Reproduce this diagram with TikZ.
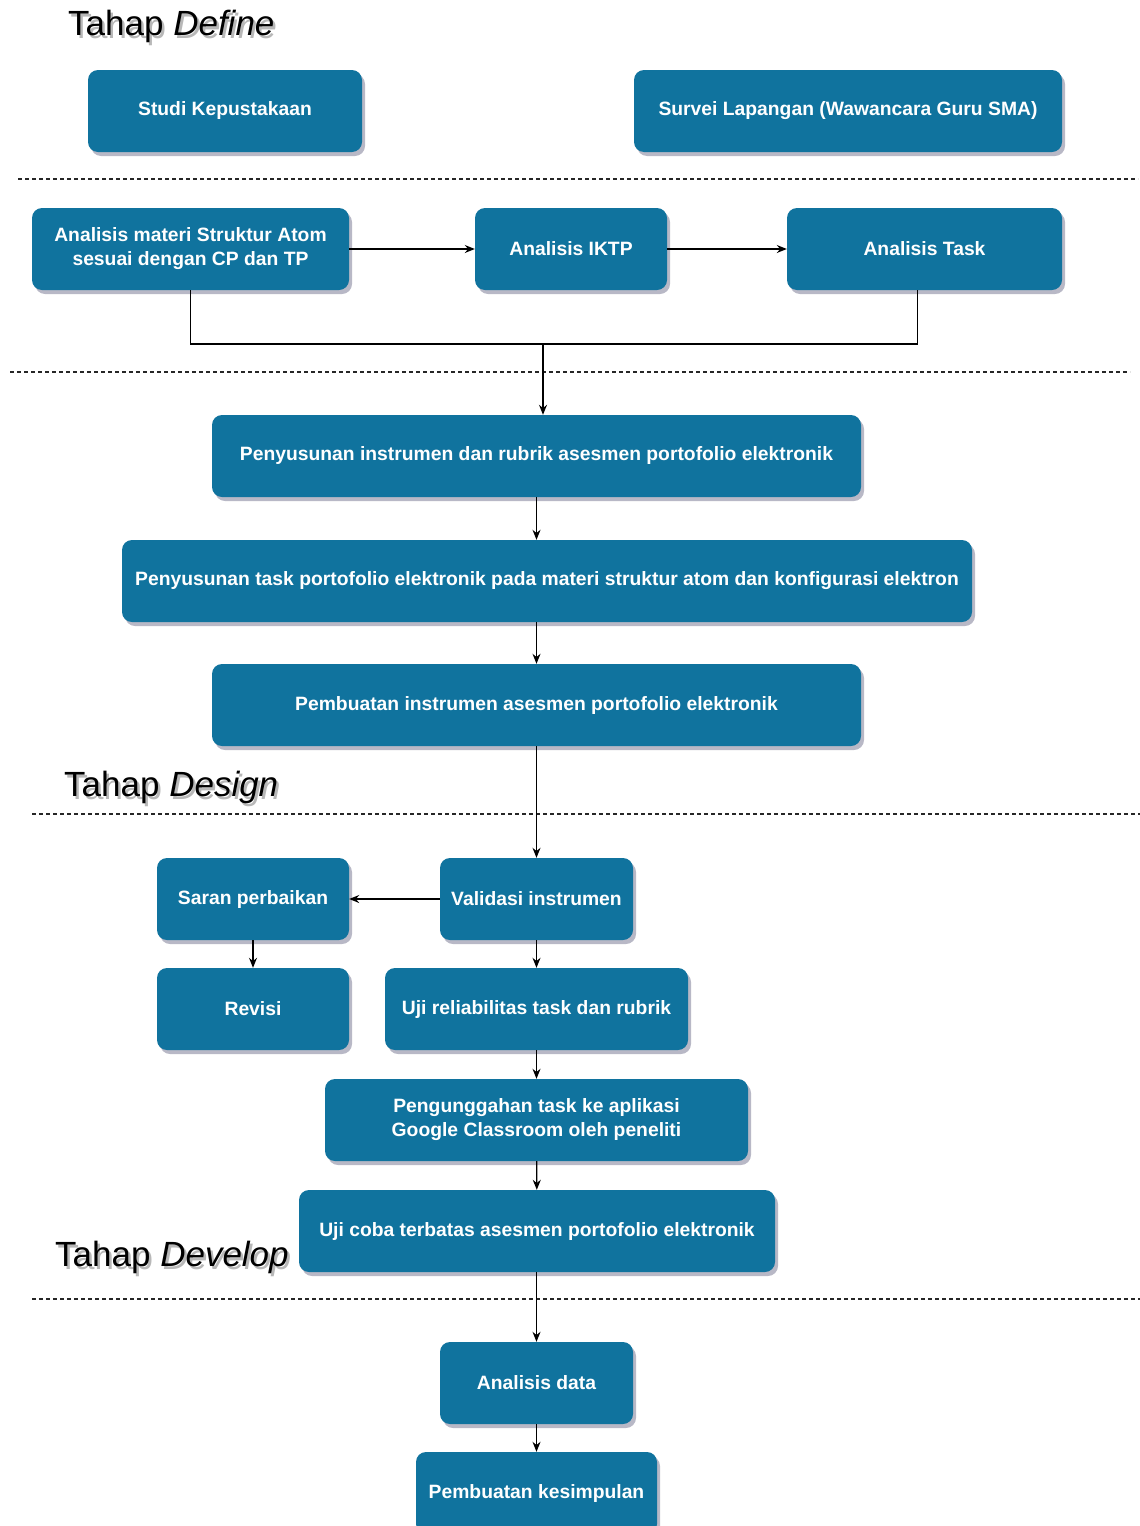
\documentclass[tikz,border=0pt]{standalone}
\usepackage{fontspec}
\setmainfont{Liberation Sans}
\usetikzlibrary{arrows.meta,shadows}
\definecolor{boxblue}{HTML}{10739E}
\tikzset{
  box/.style={rectangle, rounded corners=10pt, fill=boxblue, draw=none, text=white,
    font=\bfseries\fontsize{19.3}{24}\selectfont, align=center, inner sep=0pt,
    minimum height=82pt,
    drop shadow={shadow xshift=3pt, shadow yshift=-4pt, opacity=0.28, fill=black!80!blue}},
  arr/.style={-{Stealth[length=10pt,width=8pt]}, line width=1.2pt, black},
  conn/.style={line width=1.2pt, black},
  sep/.style={line width=1.1pt, dash pattern=on 4pt off 3pt, black!85},
  title/.style={font=\fontsize{35}{40}\selectfont, anchor=west, inner sep=0pt}
}
\newcommand{\tahap}[4]{%
  \node[title] (#4) at (#1,#2) {\rlap{\hspace{2.5pt}\raisebox{-3.5pt}{\color{black!28}Tahap \textit{#3}}}Tahap \textit{#3}};}
\begin{document}
\begin{tikzpicture}[x=1pt,y=-1pt]
\useasboundingbox (0,0) rectangle (1140,1526);
\clip (0,0) rectangle (1140,1526);
\fill[white] (0,0) rectangle (1140,1526);

% titles
\tahap{68}{28}{Define}{t1}
\tahap{64}{789}{Design}{t2}
\tahap{55}{1259}{Develop}{t3}

% separators
\draw[sep] (18,179) -- (1138,179);
\draw[sep] (10,372) -- (1130,372);
\draw[sep] (32,814) -- (1140,814);
\draw[sep] (32,1299) -- (1140,1299);

% nodes
\node[box, minimum width=274pt] (sk) at (225,111) {Studi Kepustakaan};
\node[box, minimum width=428pt] (sl) at (848,111) {Survei Lapangan (Wawancara Guru SMA)};
\node[box, minimum width=317pt] (am) at (190.5,249) {Analisis materi Struktur Atom\\sesuai dengan CP dan TP};
\node[box, minimum width=192pt] (ai) at (571,249) {Analisis IKTP};
\node[box, minimum width=275pt] (at) at (924.5,249) {Analisis Task};
\node[box, minimum width=649pt] (pi) at (536.5,456) {Penyusunan instrumen dan rubrik asesmen portofolio elektronik};
\node[box, minimum width=850pt] (pt) at (547,581) {Penyusunan task portofolio elektronik pada materi struktur atom dan konfigurasi elektron};
\node[box, minimum width=649pt] (pb) at (536.5,705) {Pembuatan instrumen asesmen portofolio elektronik};
\node[box, minimum width=193pt] (vi) at (536.5,899) {Validasi instrumen};
\node[box, minimum width=192pt] (sp) at (253,899) {Saran perbaikan};
\node[box, minimum width=192pt] (rv) at (253,1009) {Revisi};
\node[box, minimum width=303pt] (ur) at (536.5,1009) {Uji reliabilitas task dan rubrik};
\node[box, minimum width=423pt] (pg) at (536.5,1120) {Pengunggahan task ke aplikasi\\Google Classroom oleh peneliti};
\node[box, minimum width=476pt] (uc) at (537,1231) {Uji coba terbatas asesmen portofolio elektronik};
\node[box, minimum width=193pt] (ad) at (536.5,1383) {Analisis data};
\node[box, minimum width=241pt] (ks) at (536.5,1493) {Pembuatan kesimpulan};

% connectors
\coordinate (j) at (543,344);
\draw[arr] (am) -- (ai);
\draw[arr] (ai) -- (at);
\draw[conn] (am.south) |- (j);
\draw[conn] ([xshift=-7pt]at.south) |- (j);
\draw[arr] (j) -- (pi.north -| j);
\draw[arr] (pi.south) -- (pt.north -| pi.south);
\draw[arr] (pt.south -| pb.north) -- (pb.north);
\draw[arr] (pb.south) -- (vi.north);
\draw[arr] (vi) -- (sp);
\draw[arr] (sp) -- (rv);
\draw[arr] (vi) -- (ur);
\draw[arr] (ur) -- (pg);
\draw[arr] (pg) -- (uc);
\draw[arr] (uc.south -| ad.north) -- (ad.north);
\draw[arr] (ad) -- (ks);
\end{tikzpicture}
\end{document}
